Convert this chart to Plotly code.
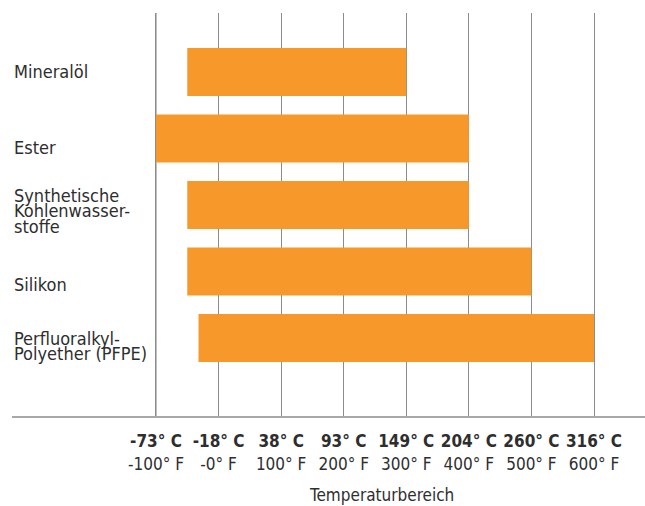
import plotly.graph_objects as go

categories = ["Mineralöl", "Ester", "Synthetische Kohlenwasserstoffe", "Silikon", "Perfluoralkyl-Polyether (PFPE)"]
label_lines = [
    ["Mineralöl"],
    ["Ester"],
    ["Synthetische", "Kohlenwasser-", "stoffe"],
    ["Silikon"],
    ["Perfluoralkyl-", "Polyether (PFPE)"],
]
low_f = [-50, -100, -50, -50, -32]
high_f = [300, 400, 400, 500, 600]

tick_f = [-100, 0, 100, 200, 300, 400, 500, 600]
tick_c_labels = ["-73° C", "-18° C", "38° C", "93° C", "149° C", "204° C", "260° C", "316° C"]
tick_f_labels = ["-100° F", "-0° F", "100° F", "200° F", "300° F", "400° F", "500° F", "600° F"]

FONT = "DejaVu Sans Condensed, Liberation Sans Narrow, Roboto, sans-serif"
TXT = "#2e2e2e"
ORANGE = "#F7992A"

fig = go.Figure()
fig.add_trace(go.Bar(
    y=categories,
    base=low_f,
    x=[h - l for h, l in zip(high_f, low_f)],
    orientation="h",
    width=0.72,
    marker=dict(color=ORANGE, line=dict(width=0)),
    hoverinfo="skip",
))

ticktext = [f"<b>{c}</b><br>{f}" for c, f in zip(tick_c_labels, tick_f_labels)]

fig.update_layout(
    width=645, height=506,
    margin=dict(l=12, r=0, t=13, b=90, autoexpand=False),
    paper_bgcolor="white", plot_bgcolor="white",
    showlegend=False,
    font=dict(family=FONT, size=18, color=TXT),
    xaxis=dict(
        range=[-330.1, 681.5],
        tickmode="array", tickvals=tick_f, ticktext=ticktext,
        showgrid=True, gridcolor="#8c8c8c", gridwidth=1,
        zeroline=False, showline=True, linecolor="#a8a8a8", linewidth=2,
        ticks="", ticklabelstandoff=9, automargin=False,
        tickfont=dict(family=FONT, size=17, color=TXT),
        fixedrange=True,
    ),
    yaxis=dict(
        type="category", categoryorder="array", categoryarray=categories,
        range=[5.173, -0.887], automargin=False,
        showticklabels=False, showgrid=False, zeroline=False, showline=False,
        fixedrange=True,
    ),
)

# lighter vertical line at -100°F
fig.add_shape(type="line", xref="x", yref="paper", x0=-100, x1=-100, y0=0, y1=1,
              line=dict(color="#bdbdbd", width=2), layer="below")

# category labels (tight line spacing)
offsets = [[0], [9.5], [-9.4, 6.0, 21.6], [12.6], [0.6, 15.6]]
for cat, lines, offs in zip(categories, label_lines, offsets):
    for line, off in zip(lines, offs):
        fig.add_annotation(
            xref="paper", yref="y", x=0.0, y=cat, xanchor="left", yanchor="middle",
            text=line, showarrow=False, yshift=-off,
            font=dict(family=FONT, size=18, color=TXT),
        )

fig.add_annotation(
    xref="x", yref="paper", x=260, y=0, yanchor="top", yshift=-67,
    text="Temperaturbereich", showarrow=False,
    font=dict(family=FONT, size=17, color=TXT),
)

fig.write_html("out.html", config={"displayModeBar": False},
               post_script="document.body.style.margin='0px';")
